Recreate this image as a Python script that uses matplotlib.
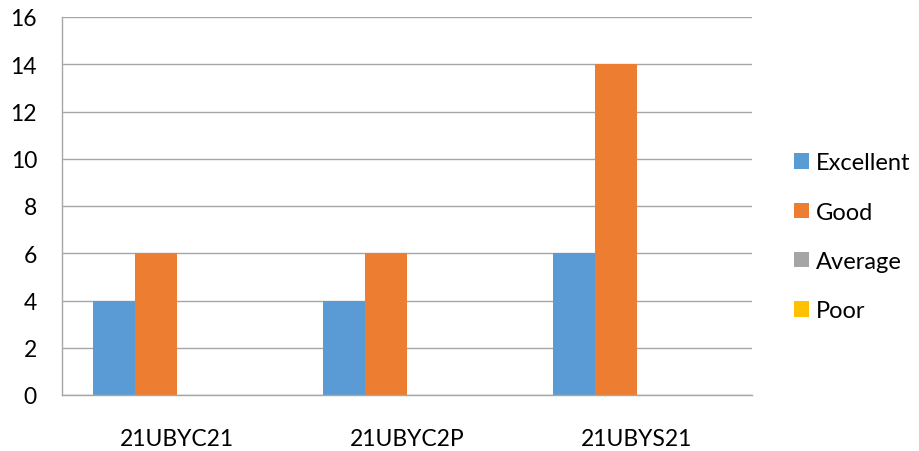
import matplotlib
matplotlib.use("Agg")
import matplotlib.pyplot as plt
from matplotlib.patches import Patch
import numpy as np

plt.rcParams['font.family'] = ['Lato', 'DejaVu Sans']

categories = ["21UBYC21", "21UBYC2P", "21UBYS21"]
series_names = ["Excellent", "Good", "Average", "Poor"]
excellent = [4, 4, 6]
good = [6, 6, 14]
average = [0, 0, 0]
poor = [0, 0, 0]
colors = ["#5B9BD5", "#ED7D31", "#A5A5A5", "#FFC000"]
y_ticks = [0, 2, 4, 6, 8, 10, 12, 14, 16]

W, H = 920, 452
FS = 16.5
fig = plt.figure(figsize=(W / 100, H / 100), dpi=100)
ax = fig.add_axes([62 / W, (H - 396) / H, (752 - 62) / W, (396 - 18) / H])

x = np.arange(len(categories))
w = 42 / 230
all_series = [excellent, good, average, poor]
for i, (vals, name, c) in enumerate(zip(all_series, series_names, colors)):
    ax.bar(x + (i - 1.5) * w, vals, width=w, color=c, label=name, zorder=3)

ax.set_xlim(-0.5, len(categories) - 0.5)
ax.set_ylim(0, 16)
ax.set_yticks(y_ticks)
ax.set_xticks(x)
ax.set_xticklabels(categories)
ax.tick_params(axis='both', length=0, labelsize=FS, colors='black')
ax.tick_params(axis='y', pad=18)
ax.tick_params(axis='x', pad=24)
ax.grid(axis='y', color='#A6A6A6', linewidth=1.0, zorder=0)
for s in ['top', 'right']:
    ax.spines[s].set_visible(False)
for s in ['left', 'bottom']:
    ax.spines[s].set_color('#A6A6A6')
    ax.spines[s].set_linewidth(1.0)
ax.spines['bottom'].set_zorder(4)

handles = [Patch(facecolor=c, edgecolor='none') for c in colors]
fig.legend(handles, series_names, loc='upper left',
           bbox_to_anchor=(773 / W, 1 - 132 / H), frameon=False,
           fontsize=17, handlelength=0.62, handleheight=0.62,
           handletextpad=0.3, labelspacing=1.2)

fig.savefig("out.png", dpi=100)
